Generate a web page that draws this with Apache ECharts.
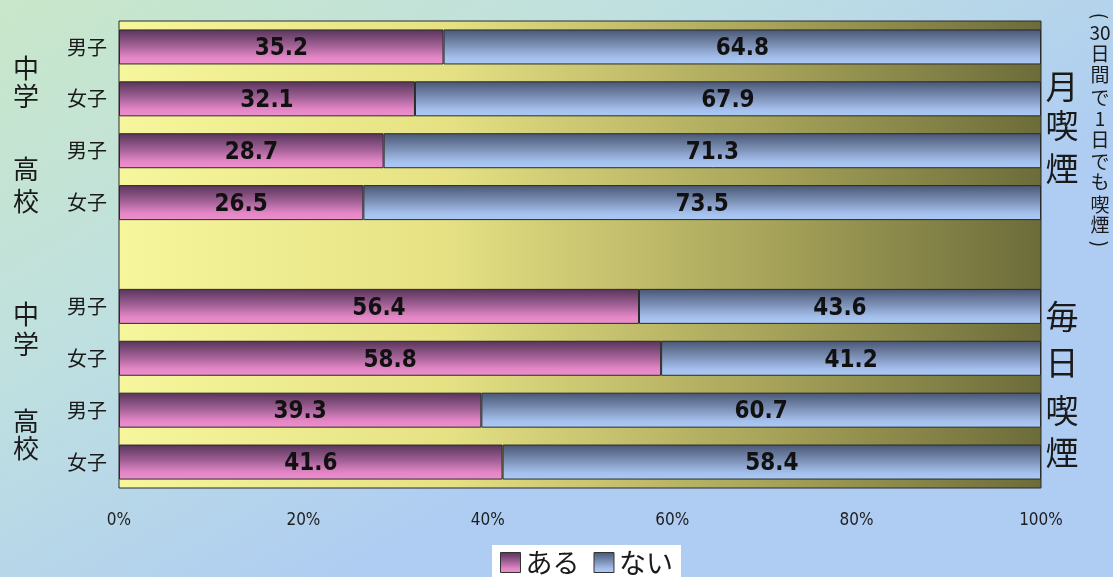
<!DOCTYPE html>
<html><head><meta charset="utf-8">
<script src="https://cdn.jsdelivr.net/npm/echarts@6/dist/echarts.min.js"></script>
<style>html,body{margin:0;padding:0;}#c{width:1113px;height:577px;}</style>
</head><body><div id="c"></div>
<script>
var categories = ['中学男子(月)','中学女子(月)','高校男子(月)','高校女子(月)','','中学男子(毎日)','中学女子(毎日)','高校男子(毎日)','高校女子(毎日)'];
var aruValues = [35.2, 32.1, 28.7, 26.5, null, 56.4, 58.8, 39.3, 41.6];
var naiValues = [64.8, 67.9, 71.3, 73.5, null, 43.6, 41.2, 60.7, 58.4];
var xTicks = [0, 20, 40, 60, 80, 100];

var chart = echarts.init(document.getElementById('c'));
var jp = '"Noto Sans CJK JP","Noto Sans",sans-serif';
var cond = '"DejaVu Sans Condensed","DejaVu Sans",sans-serif';
function chars(x, list, size) {
  return list.map(function (it) {
    return {type:'text', x:x, y:it[1], rotation: it[2] || 0, style:{text:it[0], x:0, y:0, font: size+'px '+jp, fill:'#1a1a1a', textAlign:'center', textVerticalAlign:'middle'}};
  });
}
var labelStyle = {show:true, position:'inside', offset:[0,2], color:'#111', fontSize:24, fontWeight:'bold', fontFamily:cond,
  formatter:function(p){return p.value.toFixed(1);}};
var graphics = [].concat(
  chars(26, [['中',68],['学',96],['高',169],['校',201],['中',314],['学',344],['高',421],['校',448]], 26),
  chars(1062, [['月',86],['喫',125],['煙',168],['毎',316],['日',362],['喫',410],['煙',452]], 33),
  chars(1100, [['(',16,-Math.PI/2],['30',33],['日',54],['間',75],['で',98],['1',119],['日',140],['で',162],['も',182],['喫',205],['煙',225],[')',244,-Math.PI/2]], 19)
);
var option = {
  backgroundColor: {type:'linear', x:0, y:0, x2:0.3, y2:1, colorStops:[{offset:0,color:'#c9e7c9'},{offset:0.5,color:'#bfe0e0'},{offset:1,color:'#afcdf2'}]},
  grid: {left:119, right:72, top:21, bottom:89, show:true, borderColor:'#2a2a2a', borderWidth:1,
    backgroundColor:{type:'linear', x:0, y:0, x2:1, y2:0, colorStops:[{offset:0,color:'#f6f69c'},{offset:0.35,color:'#e6e284'},{offset:0.7,color:'#a8a45a'},{offset:1,color:'#6c6c3a'}]}},
  xAxis: {type:'value', min:0, max:100, interval:20,
    axisLine:{show:false}, axisTick:{show:false}, splitLine:{show:false},
    axisLabel:{margin:24, color:'#1e1e1e', fontSize:17, fontFamily:cond,
      formatter:function(v){ return xTicks.indexOf(v) >= 0 ? v + '%' : ''; }}},
  yAxis: {type:'category', data:categories, inverse:true,
    axisLine:{show:false}, axisTick:{show:false},
    axisLabel:{margin:12, color:'#1a1a1a', fontSize:20, fontFamily:jp,
      formatter:function(v){ return v ? v.substr(2,2) : ''; }}},
  legend: {bottom:0, left:492, backgroundColor:'#ffffff', padding:[4,8,1,8], itemWidth:20, itemHeight:20, itemGap:14,
    icon:'rect',
    textStyle:{fontSize:27, color:'#1a1a1a', fontFamily:jp},
    itemStyle:{borderColor:'#333', borderWidth:1},
    data:['ある','ない']},
  series: [
    {name:'ある', type:'bar', stack:'s', data:aruValues, barWidth:35,
     itemStyle:{borderColor:'#2a2a2a', borderWidth:1,
       color:{type:'linear', x:0, y:0, x2:0, y2:1, colorStops:[{offset:0,color:'#56345a'},{offset:0.45,color:'#a06094'},{offset:0.8,color:'#e486c6'},{offset:1,color:'#ec90cc'}]}},
     label:labelStyle},
    {name:'ない', type:'bar', stack:'s', data:naiValues, barWidth:35,
     itemStyle:{borderColor:'#2a2a2a', borderWidth:1,
       color:{type:'linear', x:0, y:0, x2:0, y2:1, colorStops:[{offset:0,color:'#485674'},{offset:0.45,color:'#7c90b6'},{offset:0.8,color:'#a4bfec'},{offset:1,color:'#accaf4'}]}},
     label:labelStyle}
  ],
  graphic: graphics
};
chart.setOption(option);
</script></body></html>
